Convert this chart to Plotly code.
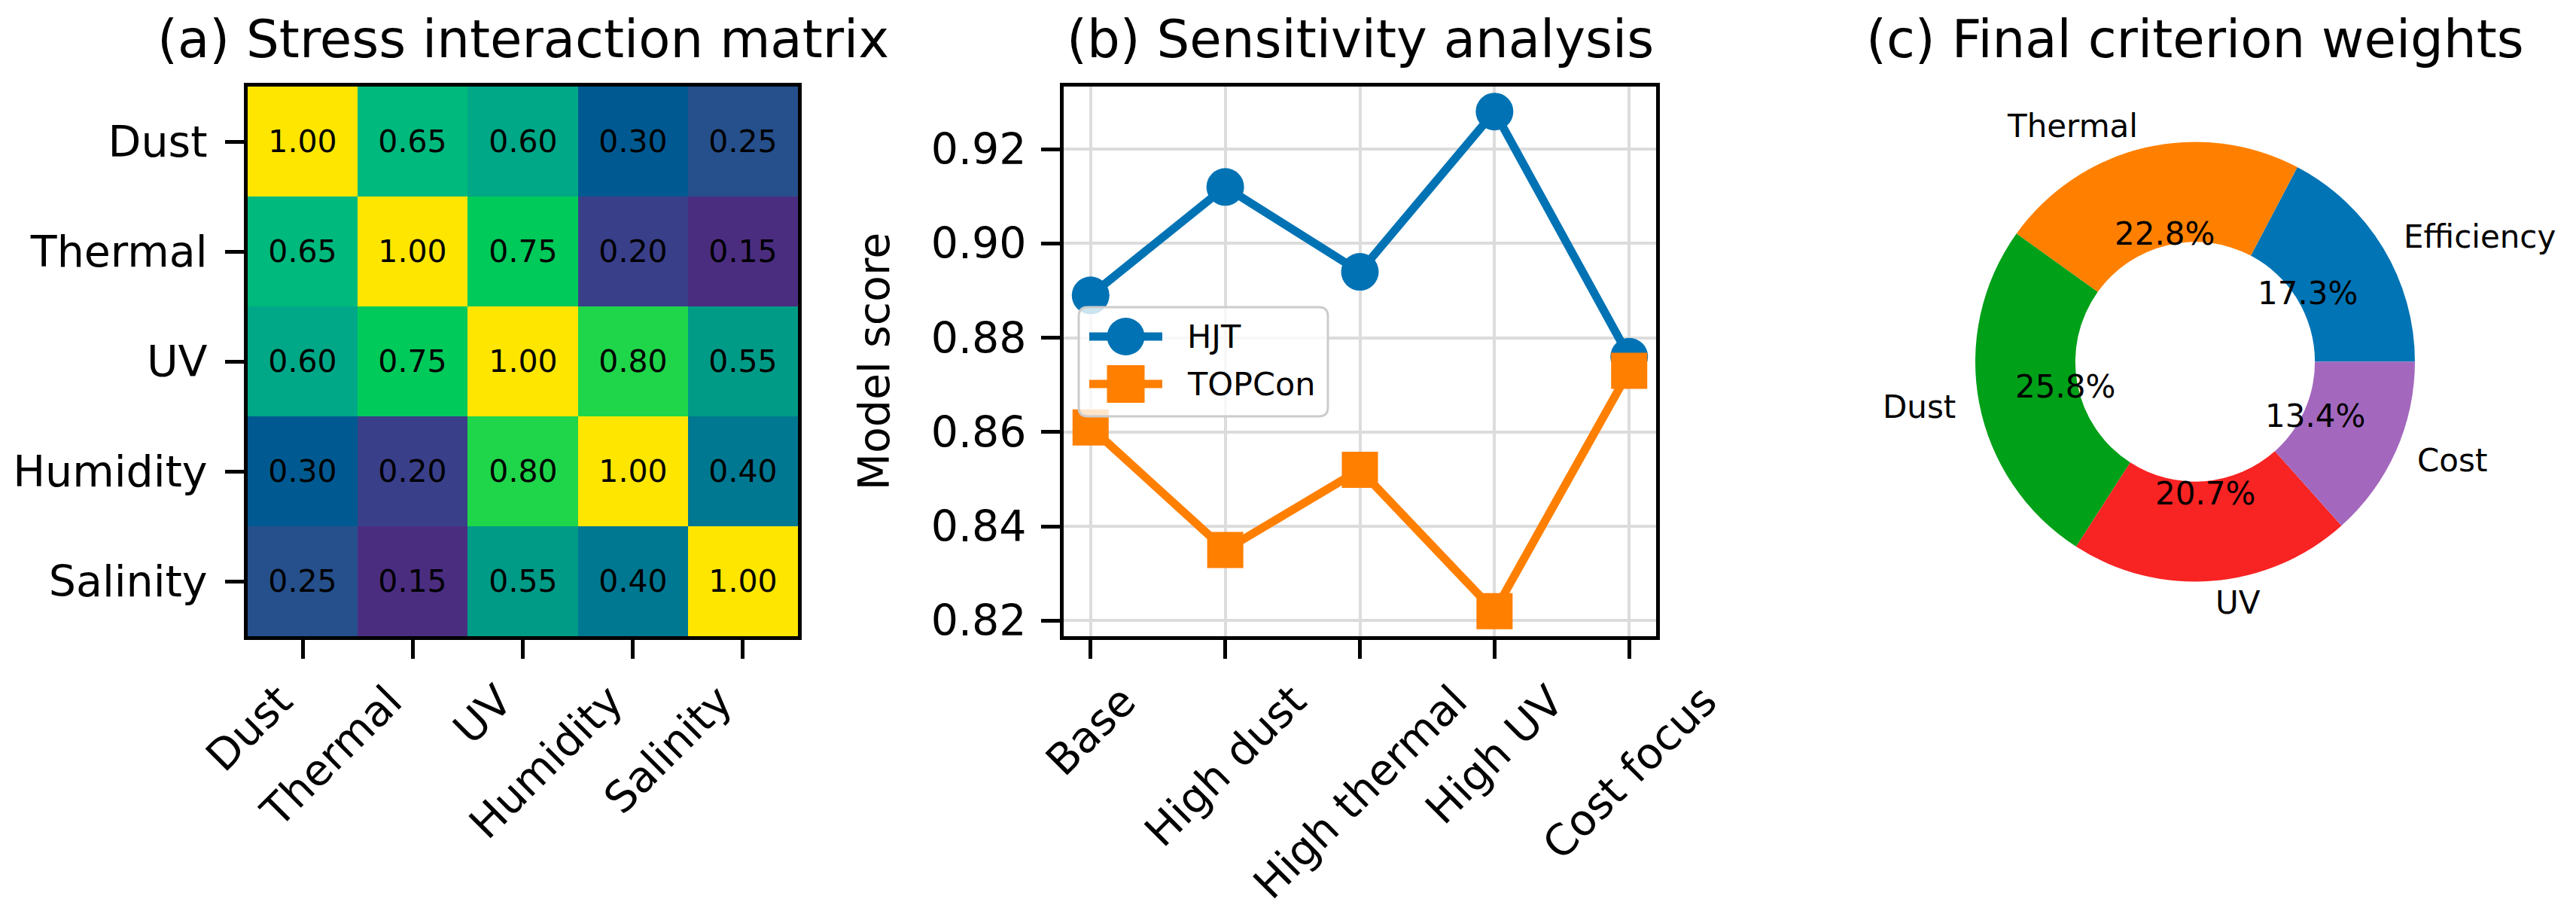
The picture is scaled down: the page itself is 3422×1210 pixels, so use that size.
import math
import plotly.graph_objects as go

# ---------------- data ----------------
# (a) stress interaction matrix
stress_labels = ["Dust", "Thermal", "UV", "Humidity", "Salinity"]
interaction_dust = [1.00, 0.65, 0.60, 0.30, 0.25]
interaction_thermal = [0.65, 1.00, 0.75, 0.20, 0.15]
interaction_uv = [0.60, 0.75, 1.00, 0.80, 0.55]
interaction_humidity = [0.30, 0.20, 0.80, 1.00, 0.40]
interaction_salinity = [0.25, 0.15, 0.55, 0.40, 1.00]

# (b) sensitivity analysis
scenarios = ["Base", "High dust", "High thermal", "High UV", "Cost focus"]
hjt_scores = [0.889, 0.912, 0.894, 0.928, 0.876]
topcon_scores = [0.861, 0.835, 0.852, 0.822, 0.873]
score_ticks = [0.82, 0.84, 0.86, 0.88, 0.90, 0.92]
series_names = ["HJT", "TOPCon"]

# (c) final criterion weights (%)
criteria = ["Efficiency", "Thermal", "Dust", "UV", "Cost"]
weights = [17.3, 22.8, 25.8, 20.7, 13.4]

# ---------------- styling ----------------
W, H = 3422, 1210
FONT = "DejaVu Sans"
BLUE = "#0173B4"
ORANGE = "#FF7F00"
PIE_COLORS = ["#0174B5", "#FF8000", "#00A018", "#F82323", "#A368BE"]
HEAT_SCALE = [
    [0.00, "#46005A"],
    [0.15, "#4B2D80"],
    [0.20, "#3A3F8A"],
    [0.25, "#26508C"],
    [0.30, "#005A91"],
    [0.40, "#007891"],
    [0.55, "#009B87"],
    [0.60, "#00A887"],
    [0.65, "#00B97D"],
    [0.75, "#00CA5A"],
    [0.80, "#1FD64A"],
    [1.00, "#FFE600"],
]


def px(x):
    return x / W


def py(y):
    return 1 - y / H


TICK_FS = 57
SMALL_FS = 42
TITLE_FS = 69
LINE_W = 11
MARK = 50

axis_common = dict(
    showline=True, linecolor="black", linewidth=5, mirror=True,
    ticks="outside", ticklen=25, tickwidth=5, tickcolor="black",
    tickfont=dict(size=TICK_FS, color="black", family=FONT),
    zeroline=False, automargin=False,
)

matrix = [interaction_dust, interaction_thermal, interaction_uv,
          interaction_humidity, interaction_salinity]

fig = go.Figure()

# (a) heatmap
fig.add_trace(go.Heatmap(
    z=matrix, x=stress_labels, y=stress_labels,
    colorscale=HEAT_SCALE, zmin=0, zmax=1, showscale=False,
    texttemplate="%{z:.2f}", textfont=dict(size=41, color="black", family=FONT),
    xaxis="x", yaxis="y",
))

# (b) line chart
fig.add_trace(go.Scatter(
    x=scenarios, y=hjt_scores, name=series_names[0], mode="lines+markers",
    line=dict(color=BLUE, width=LINE_W),
    marker=dict(symbol="circle", size=MARK, color=BLUE),
    xaxis="x2", yaxis="y2", showlegend=False,
))
fig.add_trace(go.Scatter(
    x=scenarios, y=topcon_scores, name=series_names[1], mode="lines+markers",
    line=dict(color=ORANGE, width=LINE_W),
    marker=dict(symbol="square", size=MARK - 2, color=ORANGE),
    xaxis="x2", yaxis="y2", showlegend=False,
))

# (c) donut: first slice runs counter-clockwise from 3 o'clock
pie_cx, pie_cy, pie_r = 2916, 480.5, 292
total = sum(weights)
first_span = 360.0 * weights[0] / total
fig.add_trace(go.Pie(
    labels=criteria, values=weights, hole=0.545, sort=False,
    direction="counterclockwise", rotation=90 - first_span, textinfo="none",
    marker=dict(colors=PIE_COLORS, line=dict(width=0)),
    domain=dict(x=[px(pie_cx - pie_r), px(pie_cx + pie_r)],
                y=[py(pie_cy + pie_r), py(pie_cy - pie_r)]),
    showlegend=False, automargin=False,
))

all_scores = hjt_scores + topcon_scores
lo, hi = min(all_scores), max(all_scores)
pad = 0.05 * (hi - lo)

heat_top, heat_bot = 115, 845
n_cat = len(stress_labels)

fig.update_layout(
    width=W, height=H,
    margin=dict(l=0, r=0, t=0, b=0, autoexpand=False),
    paper_bgcolor="white", plot_bgcolor="white",
    font=dict(family=FONT, color="black"),
    showlegend=False,
    xaxis=dict(domain=[px(329), px(1060)], anchor="y", type="category",
               range=[-0.5, n_cat - 0.5], showticklabels=False,
               showgrid=False, **axis_common),
    yaxis=dict(domain=[py(heat_bot), py(heat_top)], anchor="x", type="category",
               range=[n_cat - 0.5, -0.5], showgrid=False, ticklabelstandoff=12,
               **axis_common),
    xaxis2=dict(domain=[px(1413), px(2200)], anchor="y2", type="category",
                range=[-0.2, len(scenarios) - 0.8], showticklabels=False,
                showgrid=True, gridcolor="#dcdcdc", gridwidth=4, **axis_common),
    yaxis2=dict(domain=[py(heat_bot), py(heat_top)], anchor="x2",
                range=[lo - pad, hi + pad], tickvals=score_ticks,
                tickformat=".2f", showgrid=True, gridcolor="#dcdcdc", gridwidth=4,
                ticklabelstandoff=8,
                title=dict(text="Model score", font=dict(size=TICK_FS, family=FONT),
                           standoff=38),
                **axis_common),
)

annotations = [
    dict(text="(a) Stress interaction matrix", x=px((329 + 1060) / 2), y=py(52)),
    dict(text="(b) Sensitivity analysis", x=px((1413 + 2200) / 2), y=py(52)),
    dict(text="(c) Final criterion weights", x=px(pie_cx), y=py(52)),
]
for a in annotations:
    a.update(xref="paper", yref="paper", xanchor="center", yanchor="middle",
             showarrow=False, font=dict(size=TITLE_FS, family=FONT, color="black"))

# rotated category tick labels (matplotlib style: (a) right-aligned, (b) centred)
label_top = 896
for lab in stress_labels:
    annotations.append(dict(text=lab, x=lab, xref="x", y=py(label_top), yref="paper",
                            xanchor="right", yanchor="top", textangle=-45,
                            showarrow=False, borderpad=0,
                            font=dict(size=TICK_FS, family=FONT, color="black")))
for lab in scenarios:
    annotations.append(dict(text=lab, x=lab, xref="x2", y=py(label_top), yref="paper",
                            xanchor="center", yanchor="top", textangle=-45,
                            showarrow=False, borderpad=0,
                            font=dict(size=TICK_FS, family=FONT, color="black")))

# donut labels (outside, at 1.1 R) and percentages (at 0.6 R), derived from weights
start = 0.0
for lab, w in zip(criteria, weights):
    span = 360.0 * w / total
    mid = math.radians(start + span / 2)
    start += span
    cx = math.cos(mid)
    sy = math.sin(mid)
    lx = pie_cx + 1.1 * pie_r * cx
    ly = pie_cy - 1.1 * pie_r * sy
    annotations.append(dict(
        text=lab, x=px(lx), y=py(ly), xref="paper", yref="paper",
        xanchor="left" if cx > 0 else "right", yanchor="middle", showarrow=False,
        font=dict(size=SMALL_FS, family=FONT, color="black")))
    tx = pie_cx + 0.6 * pie_r * cx
    ty = pie_cy - 0.6 * pie_r * sy
    annotations.append(dict(
        text=f"{100 * w / total:.1f}%", x=px(tx), y=py(ty), xref="paper", yref="paper",
        xanchor="center", yanchor="middle", showarrow=False,
        font=dict(size=SMALL_FS, family=FONT, color="black")))

# ---- legend for panel (b), matplotlib style (rounded frame, long line samples) ----
leg_l, leg_r, leg_t, leg_b = 1433, 1764, 408, 553
rad = 12
frame_path = (
    f"M {px(leg_l + rad)},{py(leg_t)} L {px(leg_r - rad)},{py(leg_t)} "
    f"Q {px(leg_r)},{py(leg_t)} {px(leg_r)},{py(leg_t + rad)} "
    f"L {px(leg_r)},{py(leg_b - rad)} "
    f"Q {px(leg_r)},{py(leg_b)} {px(leg_r - rad)},{py(leg_b)} "
    f"L {px(leg_l + rad)},{py(leg_b)} "
    f"Q {px(leg_l)},{py(leg_b)} {px(leg_l)},{py(leg_b - rad)} "
    f"L {px(leg_l)},{py(leg_t + rad)} "
    f"Q {px(leg_l)},{py(leg_t)} {px(leg_l + rad)},{py(leg_t)} Z"
)
shapes = [dict(type="path", path=frame_path, xref="paper", yref="paper",
               fillcolor="rgba(255,255,255,0.8)", line=dict(color="#cccccc", width=3),
               layer="above")]
row_y = [447, 510]
sample_l, sample_r, text_x = 1447, 1544, 1575
for name, color, symbol, yy in zip(series_names, [BLUE, ORANGE], ["circle", "rect"], row_y):
    shapes.append(dict(type="line", xref="paper", yref="paper",
                       x0=px(sample_l), x1=px(sample_r), y0=py(yy), y1=py(yy),
                       line=dict(color=color, width=LINE_W), layer="above"))
    cxm = (sample_l + sample_r) / 2
    half = MARK / 2
    shapes.append(dict(type=symbol, xref="paper", yref="paper",
                       x0=px(cxm - half), x1=px(cxm + half),
                       y0=py(yy + half), y1=py(yy - half),
                       fillcolor=color, line=dict(width=0), layer="above"))
    annotations.append(dict(text=name, x=px(text_x), y=py(yy), xref="paper", yref="paper",
                            xanchor="left", yanchor="middle", showarrow=False,
                            font=dict(size=43, family=FONT, color="black")))

fig.update_layout(annotations=annotations, shapes=shapes)

fig.write_html("out.html")
